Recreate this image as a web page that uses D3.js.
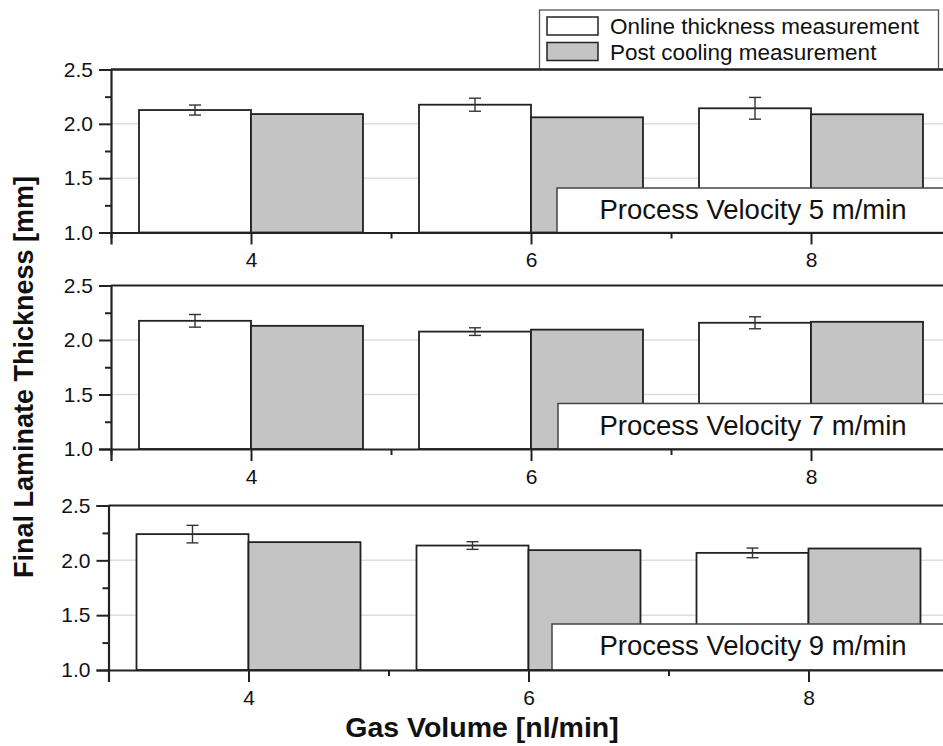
<!DOCTYPE html>
<html>
<head>
<meta charset="utf-8">
<script src="https://cdn.jsdelivr.net/npm/d3@7"></script>
<style>
  body { margin: 0; background: #fff; }
  svg { display: block; font-family: Arial, "Liberation Sans", sans-serif; }
</style>
</head>
<body>
<div id="chart"></div>
<script>
// gas volume categories (nl/min)
var gasVolumes = [4, 6, 8];
var velocities = [5, 7, 9];

// online thickness (mean, error) and post cooling thickness, per process velocity
var online5 = [2.127, 2.176, 2.143];
var err5    = [0.046, 0.060, 0.100];
var post5   = [2.090, 2.060, 2.088];

var online7 = [2.176, 2.077, 2.158];
var err7    = [0.058, 0.035, 0.055];
var post7   = [2.130, 2.095, 2.167];

var online9 = [2.239, 2.135, 2.068];
var err9    = [0.080, 0.035, 0.044];
var post9   = [2.166, 2.093, 2.108];

var yTicks = [1.0, 1.5, 2.0, 2.5];
var yMinor = [1.25, 1.75, 2.25];
var xMinor = [3, 5, 7, 9];
var legendLabels = ['Online thickness measurement', 'Post cooling measurement'];

var onlineAll = [online5, online7, online9];
var errAll = [err5, err7, err9];
var postAll = [post5, post7, post9];

var W = 943, H = 746;
var ink = '#222';
var grayFill = '#c4c4c4';
var font = 'Arial, "Liberation Sans", sans-serif';

var svg = d3.select('#chart').append('svg')
    .attr('width', W)
    .attr('height', H);

svg.append('rect').attr('width', W).attr('height', H).attr('fill', '#fff');

// panel placement
var panels = [
    {top: 69.5, bottom: 232.5, left: 111, boxTop: 188, boxLeft: 557},
    {top: 285.5, bottom: 449, left: 111, boxTop: 403.5, boxLeft: 558},
    {top: 505.5, bottom: 670, left: 108.5, boxTop: 624, boxLeft: 552}
];

panels.forEach(function(p, i){
    var g = svg.append('g');
    var x = d3.scaleLinear().domain([3, 9]).range([p.left, p.left + 840]);
    var y = d3.scaleLinear().domain([1, 2.5]).range([p.bottom, p.top]);
    var bw = 0.8;

    var rows = gasVolumes.map(function(v, j){
        return {gas: v, online: onlineAll[i][j], err: errAll[i][j], post: postAll[i][j]};
    });

    // grid lines
    g.selectAll('.grid')
        .data([1.5, 2.0])
        .enter().append('line')
        .attr('x1', x(3)).attr('x2', x(9))
        .attr('y1', function(d){ return y(d); })
        .attr('y2', function(d){ return y(d); })
        .attr('stroke', '#dedede')
        .attr('stroke-width', 1.5);

    // online bars
    g.selectAll('.online')
        .data(rows)
        .enter().append('rect')
        .attr('x', function(d){ return x(d.gas - bw); })
        .attr('width', function(d){ return x(d.gas) - x(d.gas - bw); })
        .attr('y', function(d){ return y(d.online); })
        .attr('height', function(d){ return y(1) - y(d.online); })
        .attr('fill', '#fff')
        .attr('stroke', ink)
        .attr('stroke-width', 1.8);

    // post cooling bars
    g.selectAll('.post')
        .data(rows)
        .enter().append('rect')
        .attr('x', function(d){ return x(d.gas); })
        .attr('width', function(d){ return x(d.gas + bw) - x(d.gas); })
        .attr('y', function(d){ return y(d.post); })
        .attr('height', function(d){ return y(1) - y(d.post); })
        .attr('fill', grayFill)
        .attr('stroke', ink)
        .attr('stroke-width', 1.8);

    // error bars
    var eb = g.selectAll('.err')
        .data(rows)
        .enter().append('g')
        .attr('stroke', '#333')
        .attr('stroke-width', 1.4);
    eb.append('line')
        .attr('x1', function(d){ return x(d.gas - bw / 2); })
        .attr('x2', function(d){ return x(d.gas - bw / 2); })
        .attr('y1', function(d){ return y(d.online + d.err); })
        .attr('y2', function(d){ return y(d.online - d.err); });
    [1, -1].forEach(function(s){
        eb.append('line')
            .attr('x1', function(d){ return x(d.gas - bw / 2) - 6; })
            .attr('x2', function(d){ return x(d.gas - bw / 2) + 6; })
            .attr('y1', function(d){ return y(d.online + s * d.err); })
            .attr('y2', function(d){ return y(d.online + s * d.err); });
    });

    // process velocity label box
    g.append('rect')
        .attr('x', p.boxLeft)
        .attr('y', p.boxTop)
        .attr('width', x(9) - p.boxLeft)
        .attr('height', p.bottom - p.boxTop)
        .attr('fill', '#fff')
        .attr('stroke', '#444')
        .attr('stroke-width', 1.5);
    g.append('text')
        .attr('x', 753)
        .attr('y', p.boxTop + 31)
        .attr('text-anchor', 'middle')
        .attr('font-size', 27.5)
        .attr('fill', '#111')
        .text('Process Velocity ' + velocities[i] + ' m/min');

    // y axis
    g.append('g')
        .attr('transform', 'translate(' + p.left + ',0)')
        .call(d3.axisLeft(y).tickValues(yTicks).tickSize(12).tickPadding(6).tickFormat(d3.format('.1f')));
    g.append('g')
        .attr('transform', 'translate(' + p.left + ',0)')
        .call(d3.axisLeft(y).tickValues(yMinor).tickSize(6).tickFormat(''))
        .select('.domain').remove();

    // x axis
    g.append('g')
        .attr('transform', 'translate(0,' + p.bottom + ')')
        .call(d3.axisBottom(x).tickValues(gasVolumes).tickSize(12).tickPadding(8).tickFormat(d3.format('d')));
    g.append('g')
        .attr('transform', 'translate(0,' + p.bottom + ')')
        .call(d3.axisBottom(x).tickValues(xMinor).tickSize(6).tickFormat(''))
        .select('.domain').remove();

    g.selectAll('.domain').attr('stroke', ink).attr('stroke-width', 2.2);
    g.selectAll('.tick line').attr('stroke', ink).attr('stroke-width', 2);
    g.selectAll('.tick text').attr('font-size', 21).attr('fill', '#111')
        .attr('font-family', font);

    // top frame
    g.append('line')
        .attr('x1', x(3)).attr('x2', x(9))
        .attr('y1', y(2.5)).attr('y2', y(2.5))
        .attr('stroke', ink).attr('stroke-width', 2.2);
});

// legend
var lg = svg.append('g');
lg.append('rect')
    .attr('x', 539.5).attr('y', 10)
    .attr('width', 399).attr('height', 59)
    .attr('fill', '#fff')
    .attr('stroke', '#555')
    .attr('stroke-width', 1.3);
var items = lg.selectAll('.item')
    .data(legendLabels)
    .enter().append('g')
    .attr('transform', function(d, i){ return 'translate(547,' + (17 + i * 25.5) + ')'; });
items.append('rect')
    .attr('width', 51).attr('height', 18)
    .attr('fill', function(d, i){ return i === 0 ? '#fff' : grayFill; })
    .attr('stroke', ink)
    .attr('stroke-width', 1.5);
items.append('text')
    .attr('x', 63).attr('y', 17)
    .attr('font-size', 22.5)
    .attr('fill', '#111')
    .text(function(d){ return d; });

// redraw the panel 1 top frame above the legend bottom
svg.append('line')
    .attr('x1', 111).attr('x2', 951)
    .attr('y1', 69.5).attr('y2', 69.5)
    .attr('stroke', ink).attr('stroke-width', 2.2);

// axis titles
svg.append('text')
    .attr('transform', 'translate(33,377) rotate(-90)')
    .attr('text-anchor', 'middle')
    .attr('font-size', 27)
    .attr('font-weight', 'bold')
    .attr('fill', '#111')
    .text('Final Laminate Thickness [mm]');

svg.append('text')
    .attr('x', 482).attr('y', 737)
    .attr('text-anchor', 'middle')
    .attr('font-size', 28.5)
    .attr('font-weight', 'bold')
    .attr('fill', '#111')
    .text('Gas Volume [nl/min]');
</script>
</body>
</html>
